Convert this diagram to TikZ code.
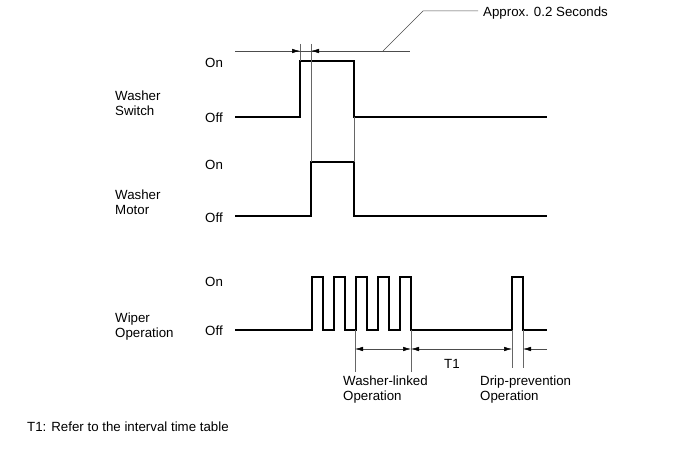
\documentclass[tikz,border=0pt]{standalone}
\usepackage{fontspec}
\setmainfont{Liberation Sans}
\usetikzlibrary{arrows.meta}
\begin{document}
\begin{tikzpicture}[x=1pt,y=-1pt,
  sig/.style={line width=1.4pt,black},
  thin/.style={line width=0.5pt,black!60},
  dim/.style={line width=0.5pt,black!70},
  ah/.tip={Latex[length=8pt,width=4.5pt,black]},
  tip/.style={-ah},
  lbl/.style={font=\fontsize{13.3}{15}\selectfont,inner sep=0pt},
  lbll/.style={lbl,align=left,anchor=west}]
\useasboundingbox (0,0) rectangle (690,465);
% washer switch
\draw[sig] (235,117) -- (300,117) -- (300,61) -- (354,61) -- (354,117) -- (547,117);
% washer motor
\draw[sig] (235,216) -- (311,216) -- (311,162) -- (354,162) -- (354,216) -- (547,216);
% wiper
\draw[sig] (235,330) -- (312,330) -- (312,277) -- (323,277) -- (323,330)
  -- (334,330) -- (334,277) -- (345,277) -- (345,330)
  -- (356,330) -- (356,277) -- (367,277) -- (367,330)
  -- (378,330) -- (378,277) -- (389,277) -- (389,330)
  -- (400,330) -- (400,277) -- (411,277) -- (411,330)
  -- (512,330) -- (512,277) -- (523,277) -- (523,330) -- (547,330);
% thin extension lines
\draw[thin] (300,44) -- (300,61);
\draw[thin] (311,44) -- (311,162);
\draw[thin] (354,117) -- (354,162);
\draw[thin] (355,330) -- (355,372);
\draw[thin] (411,330) -- (411,372);
\draw[thin] (512,330) -- (512,368);
\draw[thin] (523,330) -- (523,368);
% top dimension
\coordinate (d0) at (235,51);
\coordinate (d1) at (300,51);
\coordinate (d2) at (311,51);
\coordinate (d3) at (410,51);
\draw[dim] (d0) -- (d3);
\draw[dim,tip] (285,51) -- (d1);
\draw[dim,tip] (326,51) -- (d2);
\coordinate (l0) at (383,51);
\coordinate (l1) at (423,11);
\coordinate (l2) at (478,11);
\draw[dim] (l0) -- (l1) -- (l2);
\node[lbll] (approx) at (483,13) {Approx. 0.2 Seconds};
% bottom dimension
\coordinate (w0) at (355,349);
\coordinate (w1) at (411,349);
\coordinate (w2) at (512,349);
\coordinate (w3) at (523,349);
\coordinate (w4) at (547,349);
\draw[dim,ah-ah] (w0) -- (w1);
\draw[dim,ah-ah] (w1) -- (w2);
\draw[dim,tip] (w4) -- (w3);
\node[lbl] (t1) at (452,364) {T1};
\node[lbll] (wl) at (343,390) {Washer-linked\\Operation};
\node[lbll] (dp) at (480,390) {Drip-prevention\\Operation};
% left labels
\node[lbll] (ws) at (115,103) {Washer\\Switch};
\node[lbll] (wm) at (115,202) {Washer\\Motor};
\node[lbll] (wo) at (115,327) {Wiper\\Operation};
\node[lbll] (on1) at (205,63) {On};
\node[lbll] (off1) at (205,118) {Off};
\node[lbll] (on2) at (205,165) {On};
\node[lbll] (off2) at (205,218) {Off};
\node[lbll] (on3) at (205,282) {On};
\node[lbll] (off3) at (205,331) {Off};
\node[lbll] (note) at (27,427) {T1: Refer to the interval time table};
\end{tikzpicture}
\end{document}
